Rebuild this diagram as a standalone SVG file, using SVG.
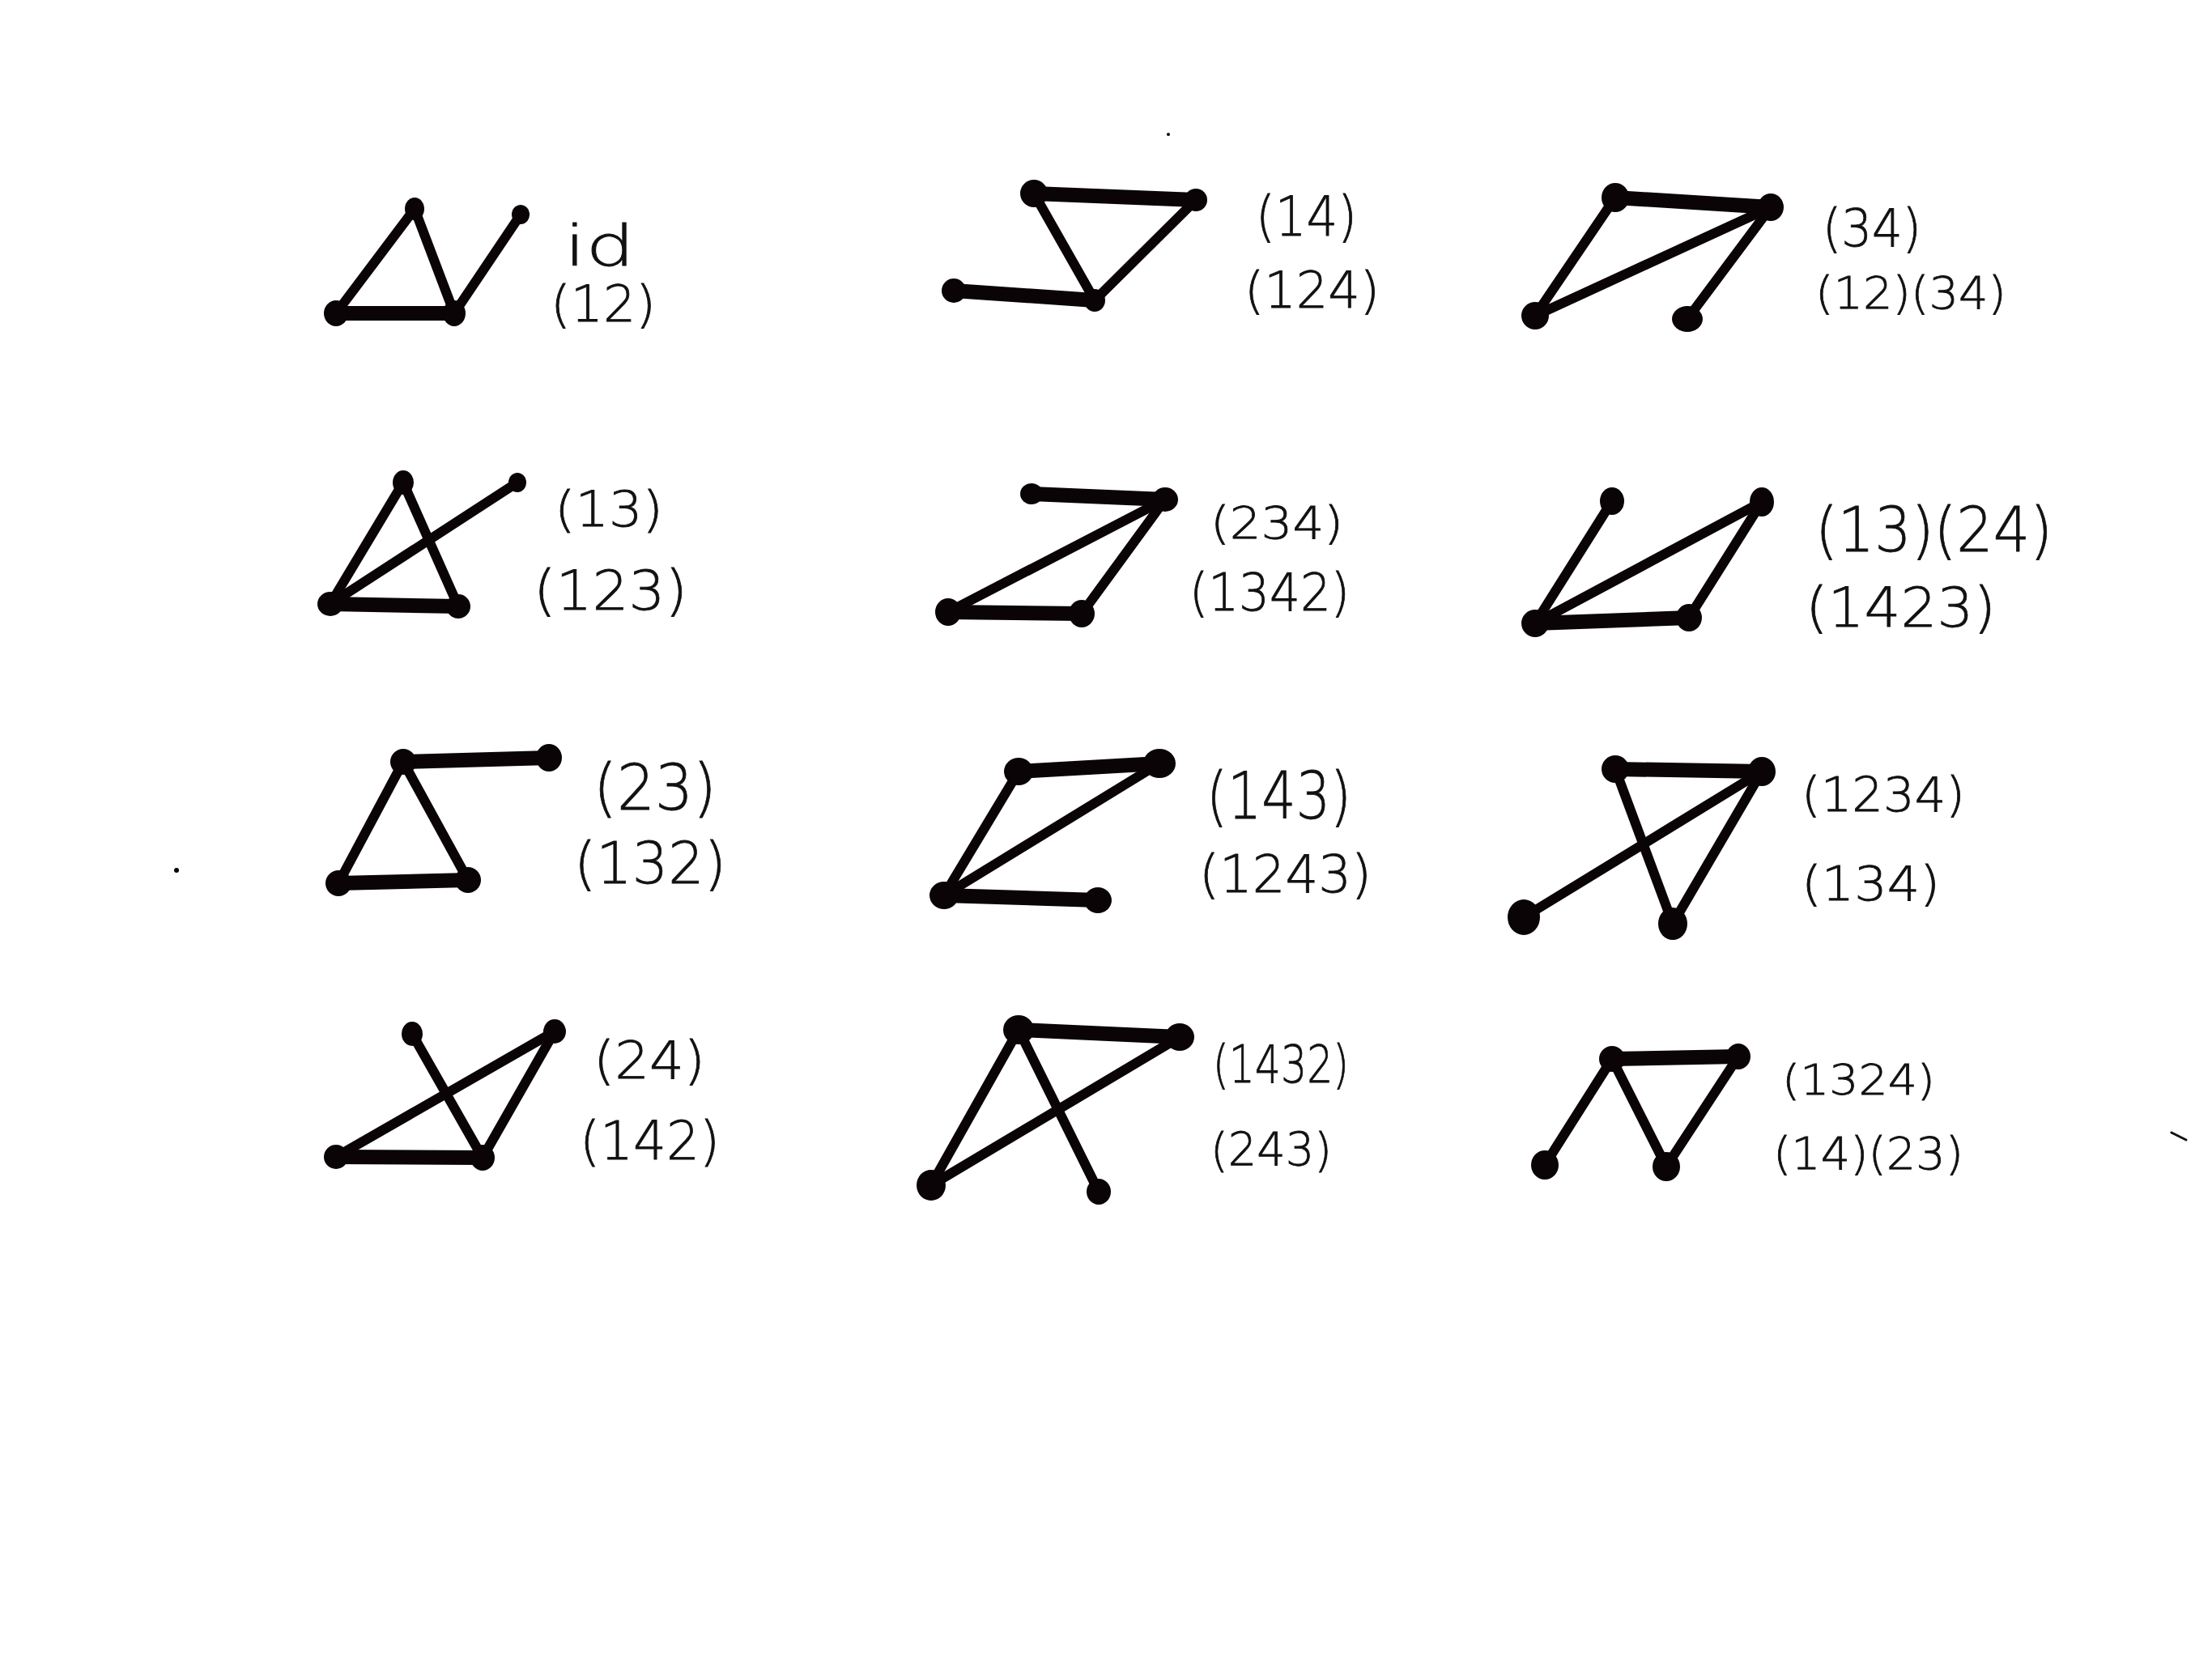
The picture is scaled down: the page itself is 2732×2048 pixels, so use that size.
<svg xmlns="http://www.w3.org/2000/svg" width="2732" height="2048" viewBox="0 0 2732 2048">
<style>
.e{stroke:#0a0406;stroke-width:12;stroke-linecap:round;fill:none}
.t{stroke-width:18}
.n{fill:#0a0406}
.l{font-family:"DejaVu Sans","Liberation Sans",sans-serif;font-weight:200;fill:#111;stroke:#111;stroke-width:0.8}
</style>
<rect width="2732" height="2048" fill="#fff"/>
<g id="connectors">
<line class="e" x1="415" y1="387" x2="512" y2="258"/><line class="e" x1="512" y1="258" x2="561" y2="387"/><line class="e t" x1="415" y1="387" x2="561" y2="387"/><line class="e" x1="561" y1="387" x2="643" y2="265"/>
<line class="e t" x1="1277" y1="239" x2="1477" y2="247"/><line class="e" x1="1277" y1="239" x2="1352" y2="371"/><line class="e" x1="1477" y1="247" x2="1352" y2="371"/><line class="e t" x1="1178" y1="359" x2="1352" y2="371"/>
<line class="e t" x1="1995" y1="244" x2="2187" y2="256"/><line class="e" x1="1995" y1="244" x2="1896" y2="390"/><line class="e" x1="2187" y1="256" x2="1896" y2="390"/><line class="e" x1="2187" y1="256" x2="2084" y2="394"/>
<line class="e" x1="498" y1="596" x2="408" y2="746"/><line class="e" x1="498" y1="596" x2="566" y2="749"/><line class="e t" x1="408" y1="746" x2="566" y2="749"/><line class="e" x1="408" y1="746" x2="639" y2="596"/>
<line class="e t" x1="1274" y1="610" x2="1439" y2="617"/><line class="e" x1="1439" y1="617" x2="1171" y2="756"/><line class="e" x1="1439" y1="617" x2="1336" y2="758"/><line class="e t" x1="1171" y1="756" x2="1336" y2="758"/>
<line class="e" x1="1991" y1="619" x2="1896" y2="770"/><line class="e" x1="2176" y1="620" x2="1896" y2="770"/><line class="e" x1="2176" y1="620" x2="2086" y2="763"/><line class="e t" x1="1896" y1="770" x2="2086" y2="763"/>
<line class="e t" x1="498" y1="941" x2="678" y2="936"/><line class="e" x1="498" y1="941" x2="418" y2="1091"/><line class="e" x1="498" y1="941" x2="578" y2="1087"/><line class="e t" x1="418" y1="1091" x2="578" y2="1087"/>
<line class="e t" x1="1258" y1="953" x2="1432" y2="943"/><line class="e" x1="1258" y1="953" x2="1166" y2="1106"/><line class="e" x1="1432" y1="943" x2="1166" y2="1106"/><line class="e t" x1="1166" y1="1106" x2="1356" y2="1112"/>
<line class="e t" x1="1995" y1="950" x2="2176" y2="953"/><line class="e" x1="1995" y1="950" x2="2066" y2="1141"/><line class="e" x1="2176" y1="953" x2="2066" y2="1141"/><line class="e" x1="2176" y1="953" x2="1882" y2="1133"/>
<line class="e" x1="509" y1="1277" x2="596" y2="1430"/><line class="e" x1="685" y1="1274" x2="415" y2="1429"/><line class="e" x1="685" y1="1274" x2="596" y2="1430"/><line class="e t" x1="415" y1="1429" x2="596" y2="1430"/>
<line class="e t" x1="1258" y1="1272" x2="1457" y2="1281"/><line class="e" x1="1258" y1="1272" x2="1150" y2="1464"/><line class="e" x1="1258" y1="1272" x2="1357" y2="1472"/><line class="e" x1="1457" y1="1281" x2="1150" y2="1464"/>
<line class="e t" x1="1991" y1="1308" x2="2147" y2="1305"/><line class="e" x1="1991" y1="1308" x2="1908" y2="1439"/><line class="e" x1="1991" y1="1308" x2="2058" y2="1441"/><line class="e" x1="2147" y1="1305" x2="2058" y2="1441"/>
</g>
<g id="g-id">
<ellipse class="n" cx="512" cy="258" rx="12" ry="14"/><ellipse class="n" cx="415" cy="387" rx="15" ry="16"/><ellipse class="n" cx="561" cy="387" rx="14" ry="16"/><ellipse class="n" cx="643" cy="265" rx="11" ry="12"/>
<text class="l" x="697" y="328" font-size="70" textLength="87" lengthAdjust="spacingAndGlyphs">id</text>
<text class="l" x="680" y="397" font-size="62" textLength="130" lengthAdjust="spacingAndGlyphs">(12)</text>
</g>
<g id="g-14">
<ellipse class="n" cx="1277" cy="239" rx="17" ry="17"/><ellipse class="n" cx="1477" cy="247" rx="14" ry="14"/><ellipse class="n" cx="1352" cy="371" rx="13" ry="14"/><ellipse class="n" cx="1178" cy="359" rx="15" ry="15"/>
<text class="l" x="1551" y="291" font-size="68" textLength="125" lengthAdjust="spacingAndGlyphs">(14)</text>
<text class="l" x="1537" y="380" font-size="62" textLength="167" lengthAdjust="spacingAndGlyphs">(124)</text>
</g>
<g id="g-34">
<ellipse class="n" cx="1995" cy="244" rx="17" ry="18"/><ellipse class="n" cx="2187" cy="256" rx="16" ry="17"/><ellipse class="n" cx="1896" cy="390" rx="17" ry="17"/><ellipse class="n" cx="2084" cy="394" rx="19" ry="16"/>
<text class="l" x="2251" y="304" font-size="64" textLength="122" lengthAdjust="spacingAndGlyphs">(34)</text>
<text class="l" x="2242" y="381" font-size="56" textLength="236" lengthAdjust="spacingAndGlyphs">(12)(34)</text>
</g>
<g id="g-13">
<ellipse class="n" cx="498" cy="596" rx="13" ry="15"/><ellipse class="n" cx="639" cy="596" rx="11" ry="12"/><ellipse class="n" cx="408" cy="746" rx="16" ry="15"/><ellipse class="n" cx="566" cy="749" rx="15" ry="15"/>
<text class="l" x="685" y="650" font-size="60" textLength="134" lengthAdjust="spacingAndGlyphs">(13)</text>
<text class="l" x="659" y="753" font-size="68" textLength="190" lengthAdjust="spacingAndGlyphs">(123)</text>
</g>
<g id="g-234">
<ellipse class="n" cx="1274" cy="610" rx="14" ry="13"/><ellipse class="n" cx="1439" cy="617" rx="16" ry="15"/><ellipse class="n" cx="1171" cy="756" rx="16" ry="17"/><ellipse class="n" cx="1336" cy="758" rx="16" ry="17"/>
<text class="l" x="1495" y="665" font-size="56" textLength="164" lengthAdjust="spacingAndGlyphs">(234)</text>
<text class="l" x="1469" y="754" font-size="64" textLength="198" lengthAdjust="spacingAndGlyphs">(1342)</text>
</g>
<g id="g-13-24">
<ellipse class="n" cx="1991" cy="619" rx="15" ry="17"/><ellipse class="n" cx="2176" cy="620" rx="15" ry="18"/><ellipse class="n" cx="1896" cy="770" rx="17" ry="17"/><ellipse class="n" cx="2086" cy="763" rx="16" ry="17"/>
<text class="l" x="2242" y="681" font-size="76" textLength="293" lengthAdjust="spacingAndGlyphs">(13)(24)</text>
<text class="l" x="2230" y="774" font-size="68" textLength="235" lengthAdjust="spacingAndGlyphs">(1423)</text>
</g>
<g id="g-23">
<ellipse class="n" cx="498" cy="941" rx="16" ry="16"/><ellipse class="n" cx="678" cy="936" rx="16" ry="17"/><ellipse class="n" cx="418" cy="1091" rx="16" ry="16"/><ellipse class="n" cx="578" cy="1087" rx="16" ry="16"/>
<text class="l" x="733" y="1000" font-size="78" textLength="152" lengthAdjust="spacingAndGlyphs">(23)</text>
<text class="l" x="709" y="1091" font-size="72" textLength="188" lengthAdjust="spacingAndGlyphs">(132)</text>
</g>
<g id="g-143">
<ellipse class="n" cx="1258" cy="953" rx="18" ry="17"/><ellipse class="n" cx="1432" cy="943" rx="20" ry="18"/><ellipse class="n" cx="1166" cy="1106" rx="18" ry="17"/><ellipse class="n" cx="1356" cy="1112" rx="17" ry="16"/>
<text class="l" x="1490" y="1011" font-size="80" textLength="179" lengthAdjust="spacingAndGlyphs">(143)</text>
<text class="l" x="1481" y="1102" font-size="64" textLength="213" lengthAdjust="spacingAndGlyphs">(1243)</text>
</g>
<g id="g-1234">
<ellipse class="n" cx="1995" cy="950" rx="17" ry="17"/><ellipse class="n" cx="2176" cy="953" rx="17" ry="18"/><ellipse class="n" cx="1882" cy="1133" rx="20" ry="22"/><ellipse class="n" cx="2066" cy="1141" rx="18" ry="20"/>
<text class="l" x="2225" y="1002" font-size="58" textLength="202" lengthAdjust="spacingAndGlyphs">(1234)</text>
<text class="l" x="2225" y="1112" font-size="58" textLength="171" lengthAdjust="spacingAndGlyphs">(134)</text>
</g>
<g id="g-24">
<ellipse class="n" cx="509" cy="1277" rx="13" ry="15"/><ellipse class="n" cx="685" cy="1274" rx="14" ry="15"/><ellipse class="n" cx="415" cy="1429" rx="15" ry="15"/><ellipse class="n" cx="596" cy="1430" rx="15" ry="16"/>
<text class="l" x="733" y="1332" font-size="64" textLength="138" lengthAdjust="spacingAndGlyphs">(24)</text>
<text class="l" x="716" y="1432" font-size="66" textLength="173" lengthAdjust="spacingAndGlyphs">(142)</text>
</g>
<g id="g-1432">
<ellipse class="n" cx="1258" cy="1272" rx="19" ry="18"/><ellipse class="n" cx="1457" cy="1281" rx="18" ry="17"/><ellipse class="n" cx="1150" cy="1464" rx="18" ry="19"/><ellipse class="n" cx="1357" cy="1472" rx="15" ry="16"/>
<text class="l" x="1498" y="1337" font-size="64" textLength="168" lengthAdjust="spacingAndGlyphs">(1432)</text>
<text class="l" x="1495" y="1440" font-size="57" textLength="150" lengthAdjust="spacingAndGlyphs">(243)</text>
</g>
<g id="g-1324">
<ellipse class="n" cx="1991" cy="1308" rx="16" ry="16"/><ellipse class="n" cx="2147" cy="1305" rx="15" ry="16"/><ellipse class="n" cx="1908" cy="1439" rx="17" ry="18"/><ellipse class="n" cx="2058" cy="1441" rx="17" ry="18"/>
<text class="l" x="2201" y="1352" font-size="52" textLength="189" lengthAdjust="spacingAndGlyphs">(1324)</text>
<text class="l" x="2190" y="1444" font-size="56" textLength="235" lengthAdjust="spacingAndGlyphs">(14)(23)</text>
</g>
<g id="marks">
<circle class="n" cx="218" cy="1075" r="3"/>
<circle class="n" cx="1443" cy="166" r="2"/>
<line x1="2682" y1="1399" x2="2700" y2="1408" stroke="#111" stroke-width="3" stroke-linecap="round"/>
</g>
</svg>
